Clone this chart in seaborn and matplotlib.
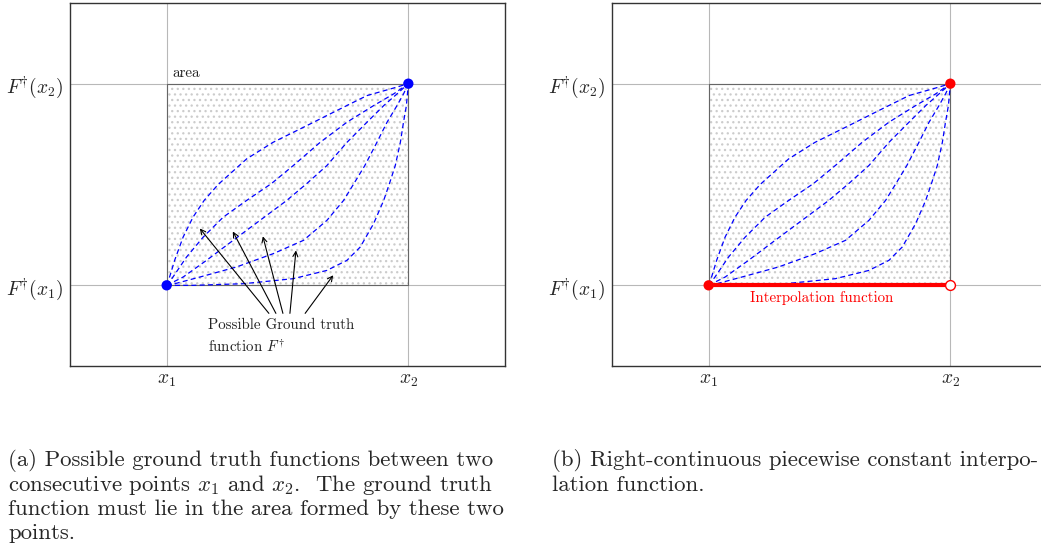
import numpy as np
import pandas as pd
import matplotlib
matplotlib.use("Agg")
import matplotlib.pyplot as plt
import seaborn as sns

sns.set_theme(style="white")
plt.rcParams["font.family"] = ["cmr10", "DejaVu Serif"]
plt.rcParams["mathtext.fontset"] = "cm"
plt.rcParams["axes.formatter.use_mathtext"] = True
plt.rcParams["hatch.linewidth"] = 0.9

# ---- data -------------------------------------------------------------
X_POINTS = [1.0, 2.0]                     # x1, x2
Y_POINTS = [1.0, 2.0]                     # F(x1), F(x2)
X_TICK_LABELS = [r"$x_1$", r"$x_2$"]
Y_TICK_LABELS = [r"$F^{\dagger}(x_1)$", r"$F^{\dagger}(x_2)$"]
AXIS_LIMITS = [0.6, 2.4]

CURVE_A_X = [1.0, 1.012, 1.033, 1.068, 1.109, 1.155, 1.213, 1.331, 1.44, 1.58, 1.718, 1.829, 1.938, 2.0]
CURVE_A_Y = [1.0, 1.041, 1.124, 1.239, 1.338, 1.421, 1.500, 1.627, 1.709, 1.792, 1.875, 1.941, 1.978, 2.0]
CURVE_B_X = [1.0, 1.026, 1.082, 1.151, 1.234, 1.331, 1.434, 1.524, 1.635, 1.746, 1.856, 1.939, 2.0]
CURVE_B_Y = [1.0, 1.041, 1.140, 1.239, 1.338, 1.421, 1.505, 1.594, 1.709, 1.809, 1.891, 1.949, 2.0]
CURVE_C_X = [1.0, 1.068, 1.165, 1.275, 1.386, 1.497, 1.580, 1.663, 1.746, 1.829, 1.898, 1.953, 2.0]
CURVE_C_Y = [1.0, 1.041, 1.124, 1.223, 1.322, 1.421, 1.505, 1.594, 1.709, 1.809, 1.891, 1.949, 2.0]
CURVE_D_X = [1.0, 1.040, 1.137, 1.289, 1.441, 1.566, 1.663, 1.732, 1.775, 1.820, 1.870, 1.912, 1.953, 1.980, 2.0]
CURVE_D_Y = [1.0, 1.010, 1.041, 1.091, 1.157, 1.223, 1.322, 1.421, 1.505, 1.594, 1.709, 1.809, 1.891, 1.949, 2.0]
CURVE_E_X = [1.0, 1.110, 1.317, 1.524, 1.663, 1.746, 1.801, 1.856, 1.898, 1.922, 1.946, 1.967, 1.980, 1.992, 2.0]
CURVE_E_Y = [1.0, 1.000, 1.008, 1.033, 1.074, 1.124, 1.190, 1.305, 1.421, 1.505, 1.594, 1.709, 1.809, 1.891, 2.0]

# arrows (tail -> head) in panel (a)
ARROW_TAIL_X = [1.423, 1.452, 1.481, 1.510, 1.573]
ARROW_TAIL_Y = [0.861, 0.861, 0.861, 0.861, 0.861]
ARROW_HEAD_X = [1.137, 1.274, 1.398, 1.535, 1.689]
ARROW_HEAD_Y = [1.282, 1.267, 1.243, 1.173, 1.050]

# interpolation function (panel b)
INTERP_X = [1.0, 2.0]
INTERP_Y = [1.0, 1.0]

CAPTION_A = [
    "(a) Possible ground truth functions between two",
    r"consecutive points $x_1$ and $x_2$.  The ground truth",
    "function must lie in the area formed by these two",
    "points.",
]
CAPTION_B = [
    "(b) Right-continuous piecewise constant interpo-",
    "lation function.",
]

curves = pd.concat([
    pd.DataFrame({"x": cx, "y": cy, "curve": name})
    for name, cx, cy in [("A", CURVE_A_X, CURVE_A_Y), ("B", CURVE_B_X, CURVE_B_Y),
                         ("C", CURVE_C_X, CURVE_C_Y), ("D", CURVE_D_X, CURVE_D_Y),
                         ("E", CURVE_E_X, CURVE_E_Y)]
], ignore_index=True)

# ---- figure -----------------------------------------------------------
W, H = 1041, 552
fig = plt.figure(figsize=(W / 100, H / 100), dpi=100)
ax_a = fig.add_axes([70 / W, (H - 366) / H, 435 / W, 363 / H])
ax_b = fig.add_axes([612 / W, (H - 366) / H, 435 / W, 363 / H])

GRID_C = "#b8b8b8"
for ax in (ax_a, ax_b):
    ax.set_xlim(AXIS_LIMITS)
    ax.set_ylim(AXIS_LIMITS)
    ax.set_xticks(X_POINTS)
    ax.set_xticklabels(X_TICK_LABELS, fontsize=14)
    ax.set_yticks(Y_POINTS)
    ax.set_yticklabels(Y_TICK_LABELS, fontsize=14)
    ax.tick_params(length=0, pad=4)
    ax.tick_params(axis="y", pad=4.5)
    ax.grid(True, color=GRID_C, lw=0.8)
    ax.set_axisbelow(True)
    for s in ax.spines.values():
        s.set_color("#333333")
        s.set_linewidth(1.0)
    # dotted area
    ax.fill_between(X_POINTS, [Y_POINTS[0]] * 2, [Y_POINTS[1]] * 2,
                    facecolor="none", edgecolor="#cccccc", hatch="...",
                    linewidth=0, zorder=1)
    ax.plot([X_POINTS[0], X_POINTS[0], X_POINTS[1], X_POINTS[1], X_POINTS[0]],
            [Y_POINTS[0], Y_POINTS[1], Y_POINTS[1], Y_POINTS[0], Y_POINTS[0]],
            color="#666666", lw=0.8, zorder=2)
    for name, grp in curves.groupby("curve"):
        sns.lineplot(data=grp, x="x", y="y", ax=ax, color="blue", lw=0.9,
                     sort=False, estimator=None, linestyle=(0, (4, 2.6)),
                     zorder=3)
    ax.set_xlabel("")
    ax.set_ylabel("")

# panel (a)
sns.scatterplot(x=X_POINTS, y=Y_POINTS, ax=ax_a, color="blue", s=55,
                edgecolor="none", zorder=5)
ax_a.text(1.025, 2.054, "area", fontsize=10.8, va="center", ha="left", color="#222222")
for tx, ty, hx, hy in zip(ARROW_TAIL_X, ARROW_TAIL_Y, ARROW_HEAD_X, ARROW_HEAD_Y):
    ax_a.annotate("", xy=(hx, hy), xytext=(tx, ty),
                  arrowprops=dict(arrowstyle="->", lw=0.8, color="black",
                                  shrinkA=0, shrinkB=0, mutation_scale=9),
                  zorder=4)
ax_a.text(1.170, 0.802, "Possible Ground truth", fontsize=10.8, va="center",
          ha="left", color="#222222")
ax_a.text(1.170, 0.698, r"function $F^{\dagger}$", fontsize=10.8, va="center",
          ha="left", color="#222222")

# panel (b)
sns.lineplot(x=INTERP_X, y=INTERP_Y, ax=ax_b, color="red", lw=3.0, zorder=4)
sns.scatterplot(x=[X_POINTS[0], X_POINTS[1]], y=[Y_POINTS[0], Y_POINTS[1]],
                ax=ax_b, color="red", s=55, edgecolor="none", zorder=5)
sns.scatterplot(x=[X_POINTS[1]], y=[Y_POINTS[0]], ax=ax_b, facecolor="white",
                edgecolor="red", linewidth=1.0, s=50, zorder=6)
ax_b.text(1.469, 0.936, "Interpolation function", fontsize=10.8, va="center",
          ha="center", color="red")

# captions
line_y = [461, 485, 509, 533]
for txt, y in zip(CAPTION_A, line_y):
    fig.text(8 / W, 1 - y / H, txt, fontsize=16.4, va="center", ha="left")
for txt, y in zip(CAPTION_B, line_y):
    fig.text(552 / W, 1 - y / H, txt, fontsize=16.4, va="center", ha="left")

fig.savefig("out.png", dpi=100)
